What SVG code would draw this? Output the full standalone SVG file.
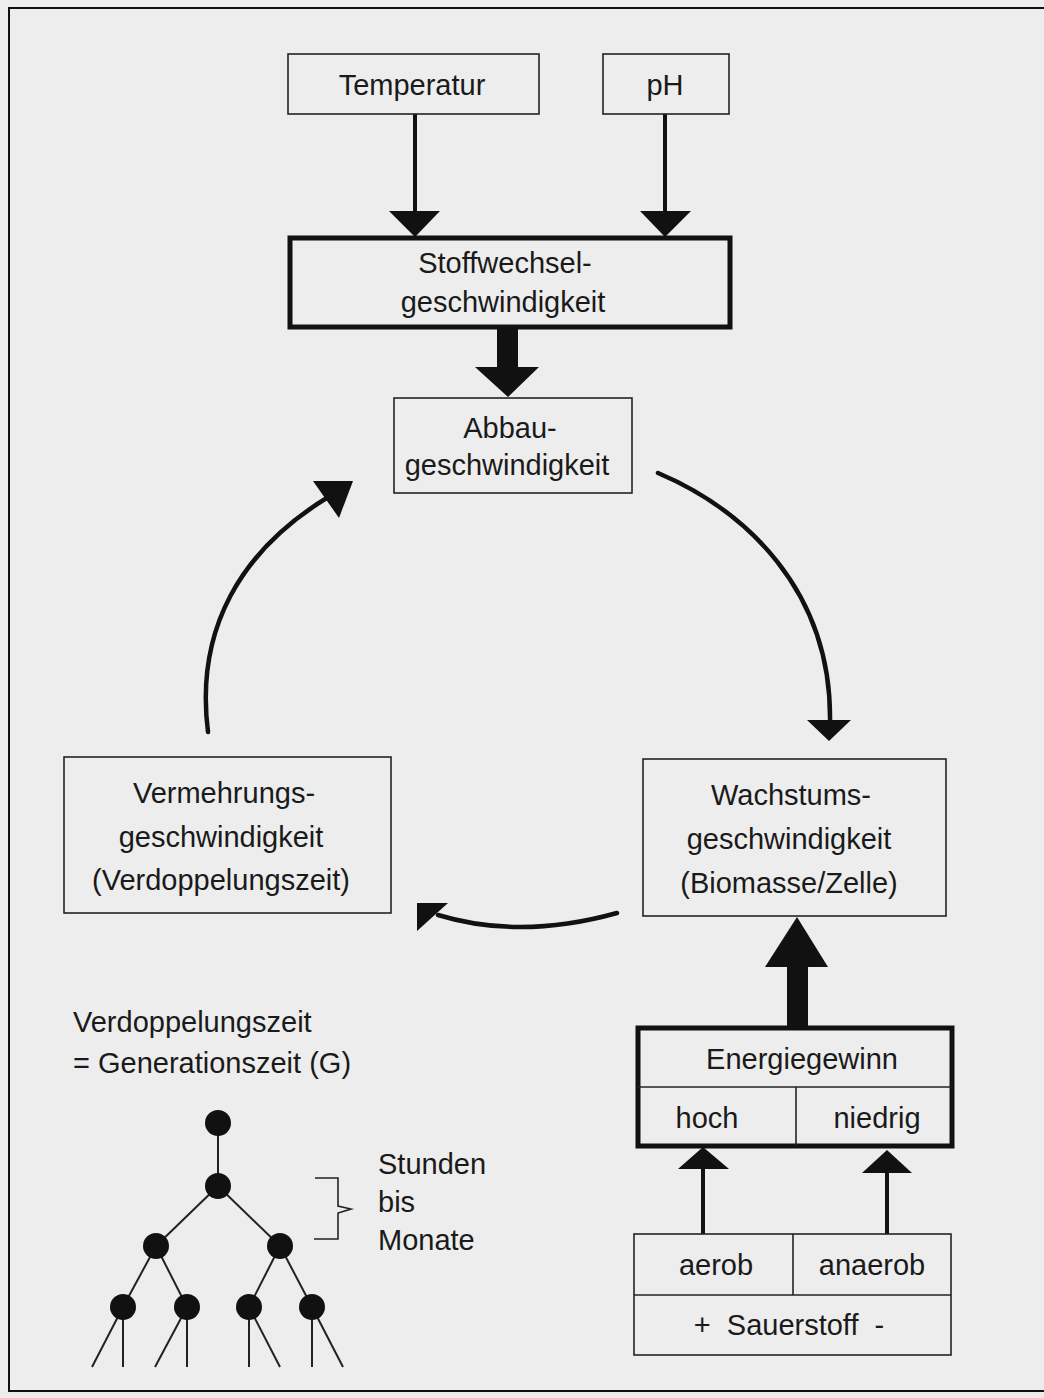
<svg xmlns="http://www.w3.org/2000/svg" width="1044" height="1398" viewBox="0 0 1044 1398">
<style>
  .t { font-family: "Liberation Sans", Arial, sans-serif; font-size: 29px; fill: #1a1a1a; text-anchor: middle; }
  .tl { font-family: "Liberation Sans", Arial, sans-serif; font-size: 29px; fill: #1a1a1a; text-anchor: start; }
  .box { fill: none; stroke: #222; stroke-width: 1.6; }
  .bold { fill: none; stroke: #111; stroke-width: 5; }
  .div { stroke: #222; stroke-width: 1.6; }
  .ln { stroke: #111; stroke-width: 4; fill: none; }
  .arc { stroke: #111; stroke-width: 4.5; fill: none; stroke-linecap: round; }
  .head { fill: #111; }
  .thin { stroke: #222; stroke-width: 2; fill: none; }
  .dot { fill: #111; }
</style>
<rect x="0" y="0" width="1044" height="1398" fill="#ededed"/>
<g id="frame">
  <line x1="8" y1="8" x2="1044" y2="8" stroke="#111" stroke-width="2"/>
  <line x1="9" y1="8" x2="9" y2="1391" stroke="#111" stroke-width="2"/>
  <line x1="8" y1="1391" x2="1044" y2="1391" stroke="#111" stroke-width="2"/>
</g>
<g id="connectors">
  <line class="ln" x1="415" y1="114" x2="415" y2="213"/>
  <polygon class="head" points="389,211 440,211 415,237"/>
  <line class="ln" x1="665" y1="114" x2="665" y2="213"/>
  <polygon class="head" points="640,211 691,211 665,237"/>
  <rect class="head" x="497" y="326" width="21" height="43"/>
  <polygon class="head" points="475,367 539,367 508,397"/>
  <path class="arc" d="M658,473 C745,510 832,590 830,722"/>
  <polygon class="head" points="807,720 851,720 829,741"/>
  <path class="arc" d="M617,913 Q520,940 438,915"/>
  <polygon class="head" points="417,903 448,903 417,931"/>
  <path class="arc" d="M208,732 C195,630 240,550 330,496"/>
  <polygon class="head" points="313,481 353,481 339,518"/>
  <rect class="head" x="787" y="965" width="21" height="63"/>
  <polygon class="head" points="765,967 828,967 797,917"/>
  <line class="ln" x1="703" y1="1166" x2="703" y2="1234"/>
  <polygon class="head" points="678,1169 729,1169 703,1147"/>
  <line class="ln" x1="887" y1="1171" x2="887" y2="1234"/>
  <polygon class="head" points="862,1173 912,1173 887,1150"/>
</g>
<g id="temperatur">
  <rect class="box" x="288" y="54" width="251" height="60"/>
  <text class="t" x="412" y="95">Temperatur</text>
</g>
<g id="ph">
  <rect class="box" x="603" y="54" width="126" height="60"/>
  <text class="t" x="665" y="95">pH</text>
</g>
<g id="stoffwechsel">
  <rect class="bold" x="290" y="238" width="440" height="89"/>
  <text class="t" x="505" y="273">Stoffwechsel-</text>
  <text class="t" x="503" y="312">geschwindigkeit</text>
</g>
<g id="abbau">
  <rect class="box" x="394" y="398" width="238" height="95"/>
  <text class="t" x="510" y="438">Abbau-</text>
  <text class="t" x="507" y="475">geschwindigkeit</text>
</g>
<g id="vermehrung">
  <rect class="box" x="64" y="757" width="327" height="156"/>
  <text class="t" x="224" y="803">Vermehrungs-</text>
  <text class="t" x="221" y="847">geschwindigkeit</text>
  <text class="t" x="221" y="890">(Verdoppelungszeit)</text>
</g>
<g id="wachstum">
  <rect class="box" x="643" y="759" width="303" height="157"/>
  <text class="t" x="791" y="805">Wachstums-</text>
  <text class="t" x="789" y="849">geschwindigkeit</text>
  <text class="t" x="789" y="893">(Biomasse/Zelle)</text>
</g>
<g id="energiegewinn">
  <rect class="bold" x="638" y="1028" width="314" height="118"/>
  <line class="div" x1="638" y1="1087" x2="952" y2="1087"/>
  <line class="div" x1="796" y1="1087" x2="796" y2="1146"/>
  <text class="t" x="802" y="1069">Energiegewinn</text>
  <text class="t" x="707" y="1128">hoch</text>
  <text class="t" x="877" y="1128">niedrig</text>
</g>
<g id="sauerstoff">
  <rect class="box" x="634" y="1234" width="317" height="121"/>
  <line class="div" x1="634" y1="1295" x2="951" y2="1295"/>
  <line class="div" x1="793" y1="1234" x2="793" y2="1295"/>
  <text class="t" x="716" y="1275">aerob</text>
  <text class="t" x="872" y="1275">anaerob</text>
  <text class="t" x="789" y="1335" xml:space="preserve">+  Sauerstoff  -</text>
</g>
<g id="definition">
  <text class="tl" x="73" y="1032">Verdoppelungszeit</text>
  <text class="tl" x="73" y="1073">= Generationszeit (G)</text>
</g>
<g id="tree">
  <line class="thin" x1="218" y1="1123" x2="218" y2="1186"/>
  <line class="thin" x1="218" y1="1186" x2="156" y2="1246"/>
  <line class="thin" x1="218" y1="1186" x2="280" y2="1246"/>
  <line class="thin" x1="156" y1="1246" x2="123" y2="1307"/>
  <line class="thin" x1="156" y1="1246" x2="187" y2="1307"/>
  <line class="thin" x1="280" y1="1246" x2="249" y2="1307"/>
  <line class="thin" x1="280" y1="1246" x2="312" y2="1307"/>
  <line class="thin" x1="123" y1="1307" x2="92" y2="1367"/>
  <line class="thin" x1="123" y1="1307" x2="123" y2="1367"/>
  <line class="thin" x1="187" y1="1307" x2="155" y2="1367"/>
  <line class="thin" x1="187" y1="1307" x2="187" y2="1367"/>
  <line class="thin" x1="249" y1="1307" x2="249" y2="1367"/>
  <line class="thin" x1="249" y1="1307" x2="280" y2="1367"/>
  <line class="thin" x1="312" y1="1307" x2="312" y2="1367"/>
  <line class="thin" x1="312" y1="1307" x2="343" y2="1367"/>
  <circle class="dot" cx="218" cy="1123" r="13"/>
  <circle class="dot" cx="218" cy="1186" r="13"/>
  <circle class="dot" cx="156" cy="1246" r="13"/>
  <circle class="dot" cx="280" cy="1246" r="13"/>
  <circle class="dot" cx="123" cy="1307" r="13"/>
  <circle class="dot" cx="187" cy="1307" r="13"/>
  <circle class="dot" cx="249" cy="1307" r="13"/>
  <circle class="dot" cx="312" cy="1307" r="13"/>
</g>
<g id="bracket">
  <polyline points="315,1178 338,1178 338,1206 351,1209 338,1213 338,1239 314,1239" fill="none" stroke="#222" stroke-width="1.6"/>
  <text class="tl" x="378" y="1174">Stunden</text>
  <text class="tl" x="378" y="1212">bis</text>
  <text class="tl" x="378" y="1250">Monate</text>
</g>
</svg>
